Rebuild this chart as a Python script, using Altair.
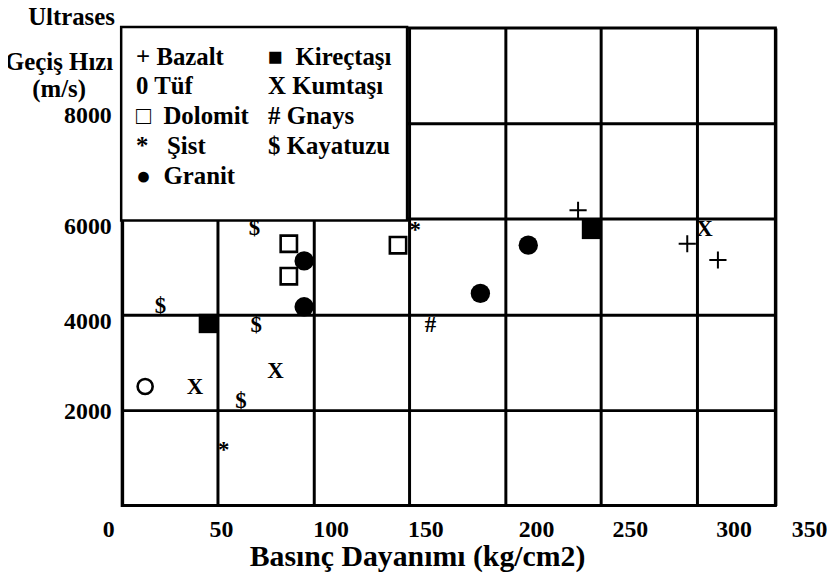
import altair as alt
import pandas as pd

# ---------------- data ----------------
TYPES = ["Bazalt", "Tüf", "Dolomit", "Şist", "Granit",
         "Kireçtaşı", "Kumtaşı", "Gnays", "Kayatuzu"]
NB = "\u00a0"
LEGEND_LABELS = ["+ Bazalt", "0 Tüf", "□" + NB * 2 + "Dolomit",
                 "*" + NB * 3 + "Şist", "●" + NB * 2 + "Granit",
                 "■" + NB * 2 + "Kireçtaşı", "X Kumtaşı", "# Gnays", "$ Kayatuzu"]

BAZALT_X = [238, 295, 311]
BAZALT_Y = [6180, 5480, 5140]
KIRECTASI_X = [45, 245]
KIRECTASI_Y = [3810, 5780]
TUF_X = [12]
TUF_Y = [2490]
KUMTASI_X = [38, 80, 304]
KUMTASI_Y = [2470, 2810, 5780]
DOLOMIT_X = [87, 87, 144]
DOLOMIT_Y = [5480, 4800, 5450]
GNAYS_X = [161]
GNAYS_Y = [3780]
SIST_X = [53, 153]
SIST_Y = [1250, 5860]
KAYATUZU_X = [20, 62, 69, 70]
KAYATUZU_Y = [4180, 2190, 5800, 3780]
GRANIT_X = [95, 95, 187, 212]
GRANIT_Y = [5120, 4160, 4440, 5450]

GLYPHS = {"Kumtaşı": "X", "Gnays": "#", "Şist": "*", "Kayatuzu": "$"}

X_TICKS = [0, 50, 100, 150, 200, 250, 300, 341]
X_TICK_LABELS = ["0", "50", "100", "150", "200", "250", "300", "350"]
Y_TICKS = [2000, 4000, 6000, 8000]
X_MAX = 341
Y_MAX = 10000

series = {
    "Bazalt": (BAZALT_X, BAZALT_Y),
    "Kireçtaşı": (KIRECTASI_X, KIRECTASI_Y),
    "Tüf": (TUF_X, TUF_Y),
    "Kumtaşı": (KUMTASI_X, KUMTASI_Y),
    "Dolomit": (DOLOMIT_X, DOLOMIT_Y),
    "Gnays": (GNAYS_X, GNAYS_Y),
    "Şist": (SIST_X, SIST_Y),
    "Kayatuzu": (KAYATUZU_X, KAYATUZU_Y),
    "Granit": (GRANIT_X, GRANIT_Y),
}
rows = []
for name, (xs, ys) in series.items():
    for xv, yv in zip(xs, ys):
        rows.append({"type": name, "x": xv, "y": yv})
df = pd.DataFrame(rows)
df["legend"] = df["type"].map(dict(zip(TYPES, LEGEND_LABELS)))
df["glyph"] = df["type"].map(GLYPHS).fillna("")

# ---------------- styling ----------------
FONT = "Liberation Serif, Times New Roman, Times, serif"
INK = "#000000"

x_shift = {0: -14, 50: 3, 100: 17, 150: 16, 200: 31, 250: 29, 300: 37, 341: 34}
x_off_expr = " : ".join(f"datum.value == {k} ? {v}" for k, v in x_shift.items()) + " : 0"
x_lab_expr = " : ".join(f"datum.value == {v} ? '{l}'" for v, l in zip(X_TICKS, X_TICK_LABELS)) + " : datum.label"
y_shift = {2000: 2, 4000: 7, 6000: 8, 8000: -8}
y_off_expr = " : ".join(f"datum.value == {k} ? {v}" for k, v in y_shift.items()) + " : 0"

x_axis = alt.Axis(
    values=X_TICKS, labelExpr=x_lab_expr, labelOffset=alt.ExprRef(expr=x_off_expr),
    grid=True, gridColor=INK, gridWidth=3, gridOpacity=1,
    ticks=False, domain=False, labelFlush=False, labelOverlap=False,
    labelFont=FONT, labelFontSize=24, labelFontWeight="bold", labelColor=INK,
    labelPadding=12, labelAlign="center",
    title="Basınç Dayanımı (kg/cm2)", titleFont=FONT, titleFontSize=30,
    titleFontWeight="bold", titleColor=INK, titleX=297, titleY=61,
    titleAlign="center", titleBaseline="alphabetic", titleAnchor="start",
)
y_axis = alt.Axis(
    values=Y_TICKS, format="d", labelOffset=alt.ExprRef(expr=y_off_expr),
    grid=True, gridColor=INK, gridWidth=3, gridOpacity=1,
    ticks=False, domain=False, labelFlush=False, labelOverlap=False,
    labelFont=FONT, labelFontSize=24, labelFontWeight="bold", labelColor=INK,
    labelPadding=11, labelAlign="right", labelBaseline="middle",
    title=["Geçiş Hızı", "(m/s)"], titleFont=FONT, titleFontSize=25,
    titleFontWeight="bold", titleColor=INK, titleAngle=0, titleX=-64, titleY=42,
    titleAlign="center", titleBaseline="alphabetic", titleLineHeight=27,
    titleAnchor="start",
)

legend = alt.Legend(
    title="\u00a0", titleOrient="bottom", titleFontSize=2, titlePadding=12.5,
    orient="none", legendX=-1, legendY=-1, columns=2, gridAlign="each",
    fillColor="#ffffff", strokeColor=INK, padding=15, clipHeight=29.5,
    rowPadding=0, columnPadding=19, labelFont=FONT,
    labelFontSize=25, labelFontWeight="bold", labelColor=INK, labelLimit=0,
    labelOffset=alt.ExprRef(expr="-25"),
    symbolSize=0, symbolOpacity=0, symbolStrokeWidth=0,
)

base = alt.Chart(df).encode(
    x=alt.X("x:Q", scale=alt.Scale(domain=[0, X_MAX], nice=False, zero=False), axis=x_axis),
    y=alt.Y("y:Q", scale=alt.Scale(domain=[0, Y_MAX], nice=False), axis=y_axis),
)

legend_layer = base.mark_point(opacity=0, size=1).encode(
    color=alt.Color("legend:N", scale=alt.Scale(domain=LEGEND_LABELS, range=[INK] * 9),
                    legend=legend)
)
plus = base.transform_filter(alt.datum.type == "Bazalt").mark_point(
    shape="M-1,0H1M0,-1V1", filled=False, size=300, strokeWidth=2, color=INK, opacity=1)
tuf = base.transform_filter(alt.datum.type == "Tüf").mark_point(
    shape="circle", filled=False, size=230, strokeWidth=2.6, color=INK, opacity=1)
dolomit = base.transform_filter(alt.datum.type == "Dolomit").mark_point(
    shape="square", filled=False, size=270, strokeWidth=2.6, color=INK, opacity=1)
kirec = base.transform_filter(alt.datum.type == "Kireçtaşı").mark_point(
    shape="square", filled=True, size=380, color=INK, opacity=1)
granit = base.transform_filter(alt.datum.type == "Granit").mark_point(
    shape="circle", filled=True, size=380, color=INK, opacity=1)
glyph_text = base.transform_filter(
    alt.FieldOneOfPredicate(field="type", oneOf=["Kumtaşı", "Gnays", "Kayatuzu"])
).mark_text(font=FONT, fontWeight="bold", fontSize=23, baseline="middle",
            align="center", color=INK).encode(text="glyph:N")
sist = base.transform_filter(alt.datum.type == "Şist").mark_text(
    font=FONT, fontWeight="bold", fontSize=23, baseline="middle", align="center",
    color=INK, dy=4).encode(text="glyph:N")

chart = alt.layer(
    legend_layer, plus, tuf, dolomit, kirec, granit, glyph_text, sist
).properties(
    width=658, height=481,
    padding={"left": 115, "top": 18, "right": 52, "bottom": 66},
    autosize=alt.AutoSizeParams(type="none"),
    title=alt.TitleParams(
        text="Ultrases", anchor="start", frame="group", align="center", dx=-51,
        dy=24, offset=0, baseline="alphabetic", font=FONT, fontSize=25,
        fontWeight="bold", color=INK),
).configure_view(stroke=INK, strokeWidth=3).configure_legend(strokeWidth=2.5)

chart.save("out.html", embed_options={"renderer": "svg", "actions": False})
